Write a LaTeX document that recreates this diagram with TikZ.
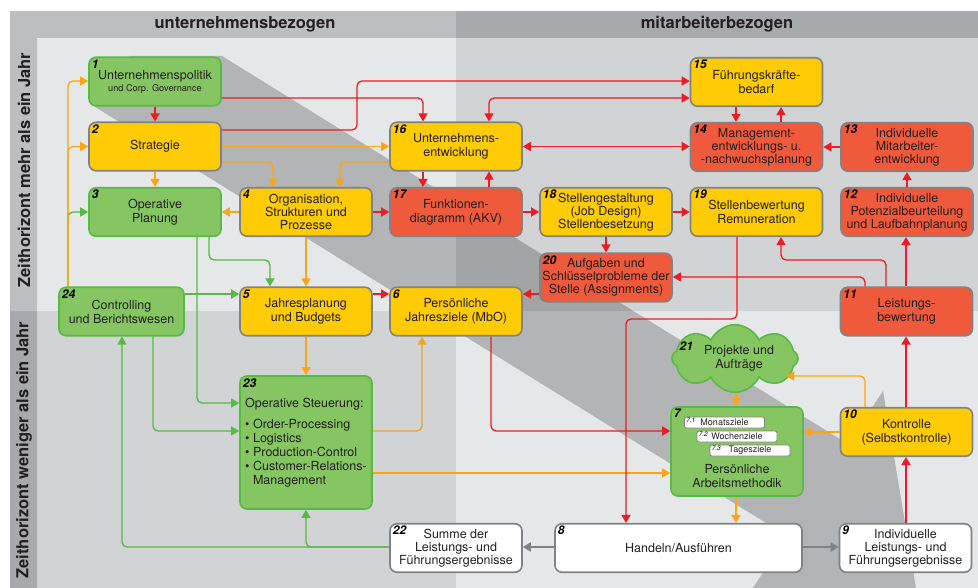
\documentclass[tikz,border=0pt]{standalone}
\usepackage{fontspec}
\setmainfont{TeX Gyre Heros}
\usetikzlibrary{arrows.meta,shapes.symbols}
\definecolor{hdrL}{RGB}{188,190,192}
\definecolor{hdrR}{RGB}{167,169,172}
\definecolor{bgL}{RGB}{230,231,232}
\definecolor{bgD}{RGB}{209,211,212}
\definecolor{gfill}{RGB}{134,198,98}
\definecolor{gline}{RGB}{88,185,71}
\definecolor{yfill}{RGB}{255,203,5}
\definecolor{rfill}{RGB}{240,90,60}
\definecolor{bord}{RGB}{128,130,133}
\definecolor{rline}{RGB}{237,28,36}
\definecolor{oline}{RGB}{247,166,27}
\definecolor{txt}{RGB}{35,31,32}
\begin{document}
\begin{tikzpicture}[x=1pt,y=-1pt,
  >={Triangle[length=8pt,width=9pt]},
  nbox/.style={draw=bord, rounded corners=7pt, line width=1.6pt, minimum width=132pt, minimum height=48.5pt, align=center, inner sep=1pt, text=txt, font=\fontsize{12.5}{14}\selectfont},
  three/.style={font=\fontsize{12.5}{13}\selectfont},
  gbox/.style={nbox, fill=gfill, draw=gline},
  ybox/.style={nbox, fill=yfill},
  rbox/.style={nbox, fill=rfill},
  wbox/.style={nbox, fill=white},
  numf/.style={inner sep=0.5pt, text=black, font=\fontsize{12}{13}\bfseries\itshape\selectfont},
  numlab/.style={label={[numf, anchor=north west, xshift=3pt, yshift=-2.5pt]north west:#1}},
  subbox/.style={draw=bord, fill=white, rounded corners=2pt, line width=0.8pt, minimum width=80pt, minimum height=11pt, inner sep=0pt, text=txt, font=\fontsize{9}{10}\selectfont},
  sublab/.style={label={[inner sep=0pt, text=black, font=\fontsize{6.5}{7}\itshape\selectfont, anchor=north west, xshift=2pt, yshift=-1pt]north west:#1}},
  con/.style={line width=1.3pt, rounded corners=5pt, ->},
  redc/.style={con, draw=rline},
  thkred/.style={con, draw=rline, line width=2.3pt},
  orac/.style={con, draw=oline},
  grnc/.style={con, draw=gline},
  grac/.style={con, draw=bord, line width=2.3pt},
  hdr/.style={text=txt, font=\fontsize{16.5}{18}\bfseries\selectfont}
]
\useasboundingbox (0,0) rectangle (978,588);
% backgrounds
\fill[white] (0,0) rectangle (978,588);
\fill[hdrL] (10,11) rectangle (456,38);
\fill[hdrR] (456,11) rectangle (978,38);
\fill[hdrL] (10,38) rectangle (37,311);
\fill[hdrR] (10,311) rectangle (37,588);
\fill[bgL] (37,38) rectangle (456,311);
\fill[bgD] (456,38) rectangle (978,311);
\fill[bgD] (37,311) rectangle (456,588);
\fill[bgL] (456,311) rectangle (978,588);
% big arrow
\begin{scope}
\clip (0,0) rectangle (978,588);
\fill[black, fill opacity=0.22] (130,56) -- (222,56) -- (848,444) -- (883,391) -- (918,600) -- (745,600) -- (787,536) -- (92,105) -- cycle;
\end{scope}
% headers
\node[hdr] (h1) at (245,24) {unternehmensbezogen};
\node[hdr] (h2) at (717,24) {mitarbeiterbezogen};
\node[hdr, rotate=90] (v1) at (24,170) {Zeithorizont mehr als ein Jahr};
\node[hdr, rotate=90] (v2) at (24,450) {Zeithorizont weniger als ein Jahr};
% nodes
\node[gbox, numlab=1] (n1) at (155,81.5) {Unternehmenspolitik\\[-2pt]{\fontsize{9.2}{11}\selectfont und Corp. Governance}};
\node[ybox, numlab=2] (n2) at (155,146.5) {Strategie};
\node[gbox, numlab=3] (n3) at (155,212) {Operative\\Planung};
\node[ybox, three, numlab=4] (n4) at (306,212) {Organisation,\\Strukturen und\\Prozesse};
\node[ybox, numlab=5] (n5) at (306,311.5) {Jahresplanung\\und Budgets};
\node[ybox, numlab=6] (n6) at (456,311.5) {Persönliche\\Jahresziele (MbO)};
\node[ybox, numlab=16] (n16) at (456,146.5) {Unternehmens-\\entwicklung};
\node[rbox, numlab=17] (n17) at (456,212) {Funktionen-\\diagramm (AKV)};
\node[ybox, three, numlab=18] (n18) at (606,212) {Stellengestaltung\\(Job Design)\\Stellenbesetzung};
\node[rbox, three, numlab=20] (n20) at (606,277.5) {Aufgaben und\\Schlüsselprobleme der\\Stelle (Assignments)};
\node[ybox, numlab=15] (n15) at (756.5,82) {Führungskräfte-\\bedarf};
\node[rbox, three, numlab=14] (n14) at (756.5,147) {Management-\\entwicklungs- u.\\-nachwuchsplanung};
\node[ybox, numlab=19] (n19) at (756.5,212) {Stellenbewertung\\Remuneration};
\node[rbox, three, numlab=13] (n13) at (907,147) {Individuelle\\Mitarbeiter-\\entwicklung};
\node[rbox, three, numlab=12] (n12) at (907,212) {Individuelle\\Potenzialbeurteilung\\und Laufbahnplanung};
\node[rbox, numlab=11] (n11) at (906.5,311.5) {Leistungs-\\bewertung};
\node[ybox, numlab=10] (n10) at (906.5,432) {Kontrolle\\(Selbstkontrolle)};
\node[wbox, three, numlab=9] (n9) at (905.5,548) {Individuelle\\Leistungs- und\\Führungsergebnisse};
\node[wbox, numlab=8, minimum width=247pt] (n8) at (678.5,548) {Handeln/Ausführen};
\node[wbox, three, numlab=22] (n22) at (456,548) {Summe der\\Leistungs- und\\Führungsergebnisse};
\node[gbox, numlab=7, minimum height=89pt] (n7) at (737,451.5) {};
\node[subbox, sublab=7.1] (n71) at (724.5,422.5) {Monatsziele};
\node[subbox, sublab=7.2] (n72) at (737,436.5) {Wochenziele};
\node[subbox, sublab=7.3] (n73) at (750,450.5) {Tagesziele};
\node[text=txt, align=center, font=\fontsize{12.5}{14}\selectfont] (t7) at (737,476) {Persönliche\\Arbeitsmethodik};
\node[draw=gline, fill=gfill, line width=1.6pt, cloud, cloud puffs=8, cloud puff arc=130, aspect=2.5, minimum width=126pt, minimum height=49pt, inner sep=0pt, align=center, text=txt, font=\fontsize{12.5}{14}\selectfont] (n21) at (735,358.5) {\hspace*{8pt}Projekte und\\\hspace*{8pt}Aufträge};
\node[numf, anchor=north west] (l21) at (679,341) {21};
\node[gbox, numlab=23, minimum height=133pt, align=left] (n23) at (306,442.5) {Operative Steuerung:\\[7pt]\textbullet\ Order-Processing\\\textbullet\ Logistics\\\textbullet\ Production-Control\\\textbullet\ Customer-Relations-\\\hphantom{\textbullet\ }Management};
\node[gbox, numlab=24, minimum width=125pt] (n24) at (121.5,311.5) {Controlling\\und Berichtswesen};
% green connectors
\draw[grnc] (n24.north -| 68,0) |- (n3.west |- 0,212);
\draw[grnc] (n3.south -| 209,0) -- (209,260) -| (n5.north -| 270,0);
\draw[grnc] (n3.south -| 197,0) |- (n23.west |- 0,403);
\draw[grnc, line width=2.2pt] (n24.east |- 0,294) -- (n5.west |- 0,294);
\draw[grnc] (n24.south -| 153,0) |- (n23.west |- 0,431);
\draw[grnc] (n22.west |- 0,547) -| (n24.south -| 122,0);
\draw[grnc] (n22.west |- 0,547) -| (n23.south -| 306,0);
% orange connectors
\draw[orac] (n2.south) -- (n3.north);
\draw[orac] (n24.north -| 68,0) |- (n1.west |- 0,81);
\draw[orac] (n24.north -| 68,0) |- (n2.west |- 0,146.5);
\draw[orac] (n2.east |- 0,146.5) -- (n16.west |- 0,146.5);
\draw[orac] (n2.east |- 0,162) -| (n4.north -| 273,0);
\draw[orac] (n16.west |- 0,162) -| (n4.north -| 340,0);
\draw[orac] (n4.west) -- (n3.east);
\draw[orac] (n4.south) -- (n5.north);
\draw[orac] (n5.south) -- (n23.north);
\draw[orac] (n23.east |- 0,431) -| (n6.south -| 422,0);
\draw[orac] (n23.east |- 0,473) -- (n7.west |- 0,473);
\draw[orac] (n21.south -| 736,0) -- (n7.north -| 736,0);
\draw[orac] (n7.south -| 736,0) -- (n8.north -| 736,0);
\draw[orac] (n10.west |- 0,432) -- (n7.east |- 0,432);
\coordinate (c21) at (786,376);
\draw[orac] (n10.north -| 865,0) |- (c21);
% red connectors
\draw[redc] (n1.south) -- (n2.north);
\draw[redc] (n1.east |- 0,98) -| (n16.north -| 423,0);
\draw[redc] (n2.east |- 0,130) -- (357,130) |- (n15.west |- 0,81);
\draw[redc,<->] (n16.north -| 489,0) |- (n15.west |- 0,98);
\draw[redc,<->] (n16.east |- 0,146.5) -- (n14.west |- 0,146.5);
\draw[redc] (n15.south -| 736,0) -- (n14.north -| 736,0);
\draw[redc] (n14.north -| 781,0) -- (n15.south -| 781,0);
\draw[redc] (n13.west) -- (n14.east);
\draw[redc] (n12.north) -- (n13.south);
\draw[redc] (n16.south -| 423,0) -- (n17.north -| 423,0);
\draw[redc] (n17.north -| 489,0) -- (n16.south -| 489,0);
\draw[redc] (n4.east) -- (n17.west);
\draw[redc] (n17.east) -- (n18.west);
\draw[redc] (n18.east) -- (n19.west);
\draw[redc] (n18.south) -- (n20.north);
\draw[redc] (n20.west |- 0,294) -- (n6.east |- 0,294);
\draw[redc] (n5.east |- 0,294) -- (n6.west |- 0,294);
\draw[redc] (n11.north -| 865,0) |- (n20.east |- 0,277);
\draw[redc] (n11.north -| 886,0) -- (886,260) -| (n19.south -| 781,0);
\draw[thkred] (n11.north -| 906,0) -- (n12.south -| 906,0);
\draw[redc] (n19.south -| 737,0) -- (737,319) -| (n8.north -| 626,0);
\draw[redc] (n6.south -| 491,0) |- (n7.west |- 0,431);
\draw[thkred] (n9.north -| 906,0) -- (n10.south -| 906,0);
\draw[thkred] (n10.north -| 906,0) -- (n11.south -| 906,0);
% gray connectors
\draw[grac] (n8.west |- 0,547) -- (n22.east |- 0,547);
\draw[grac] (n8.east |- 0,547) -- (n9.west |- 0,547);
\end{tikzpicture}
\end{document}
